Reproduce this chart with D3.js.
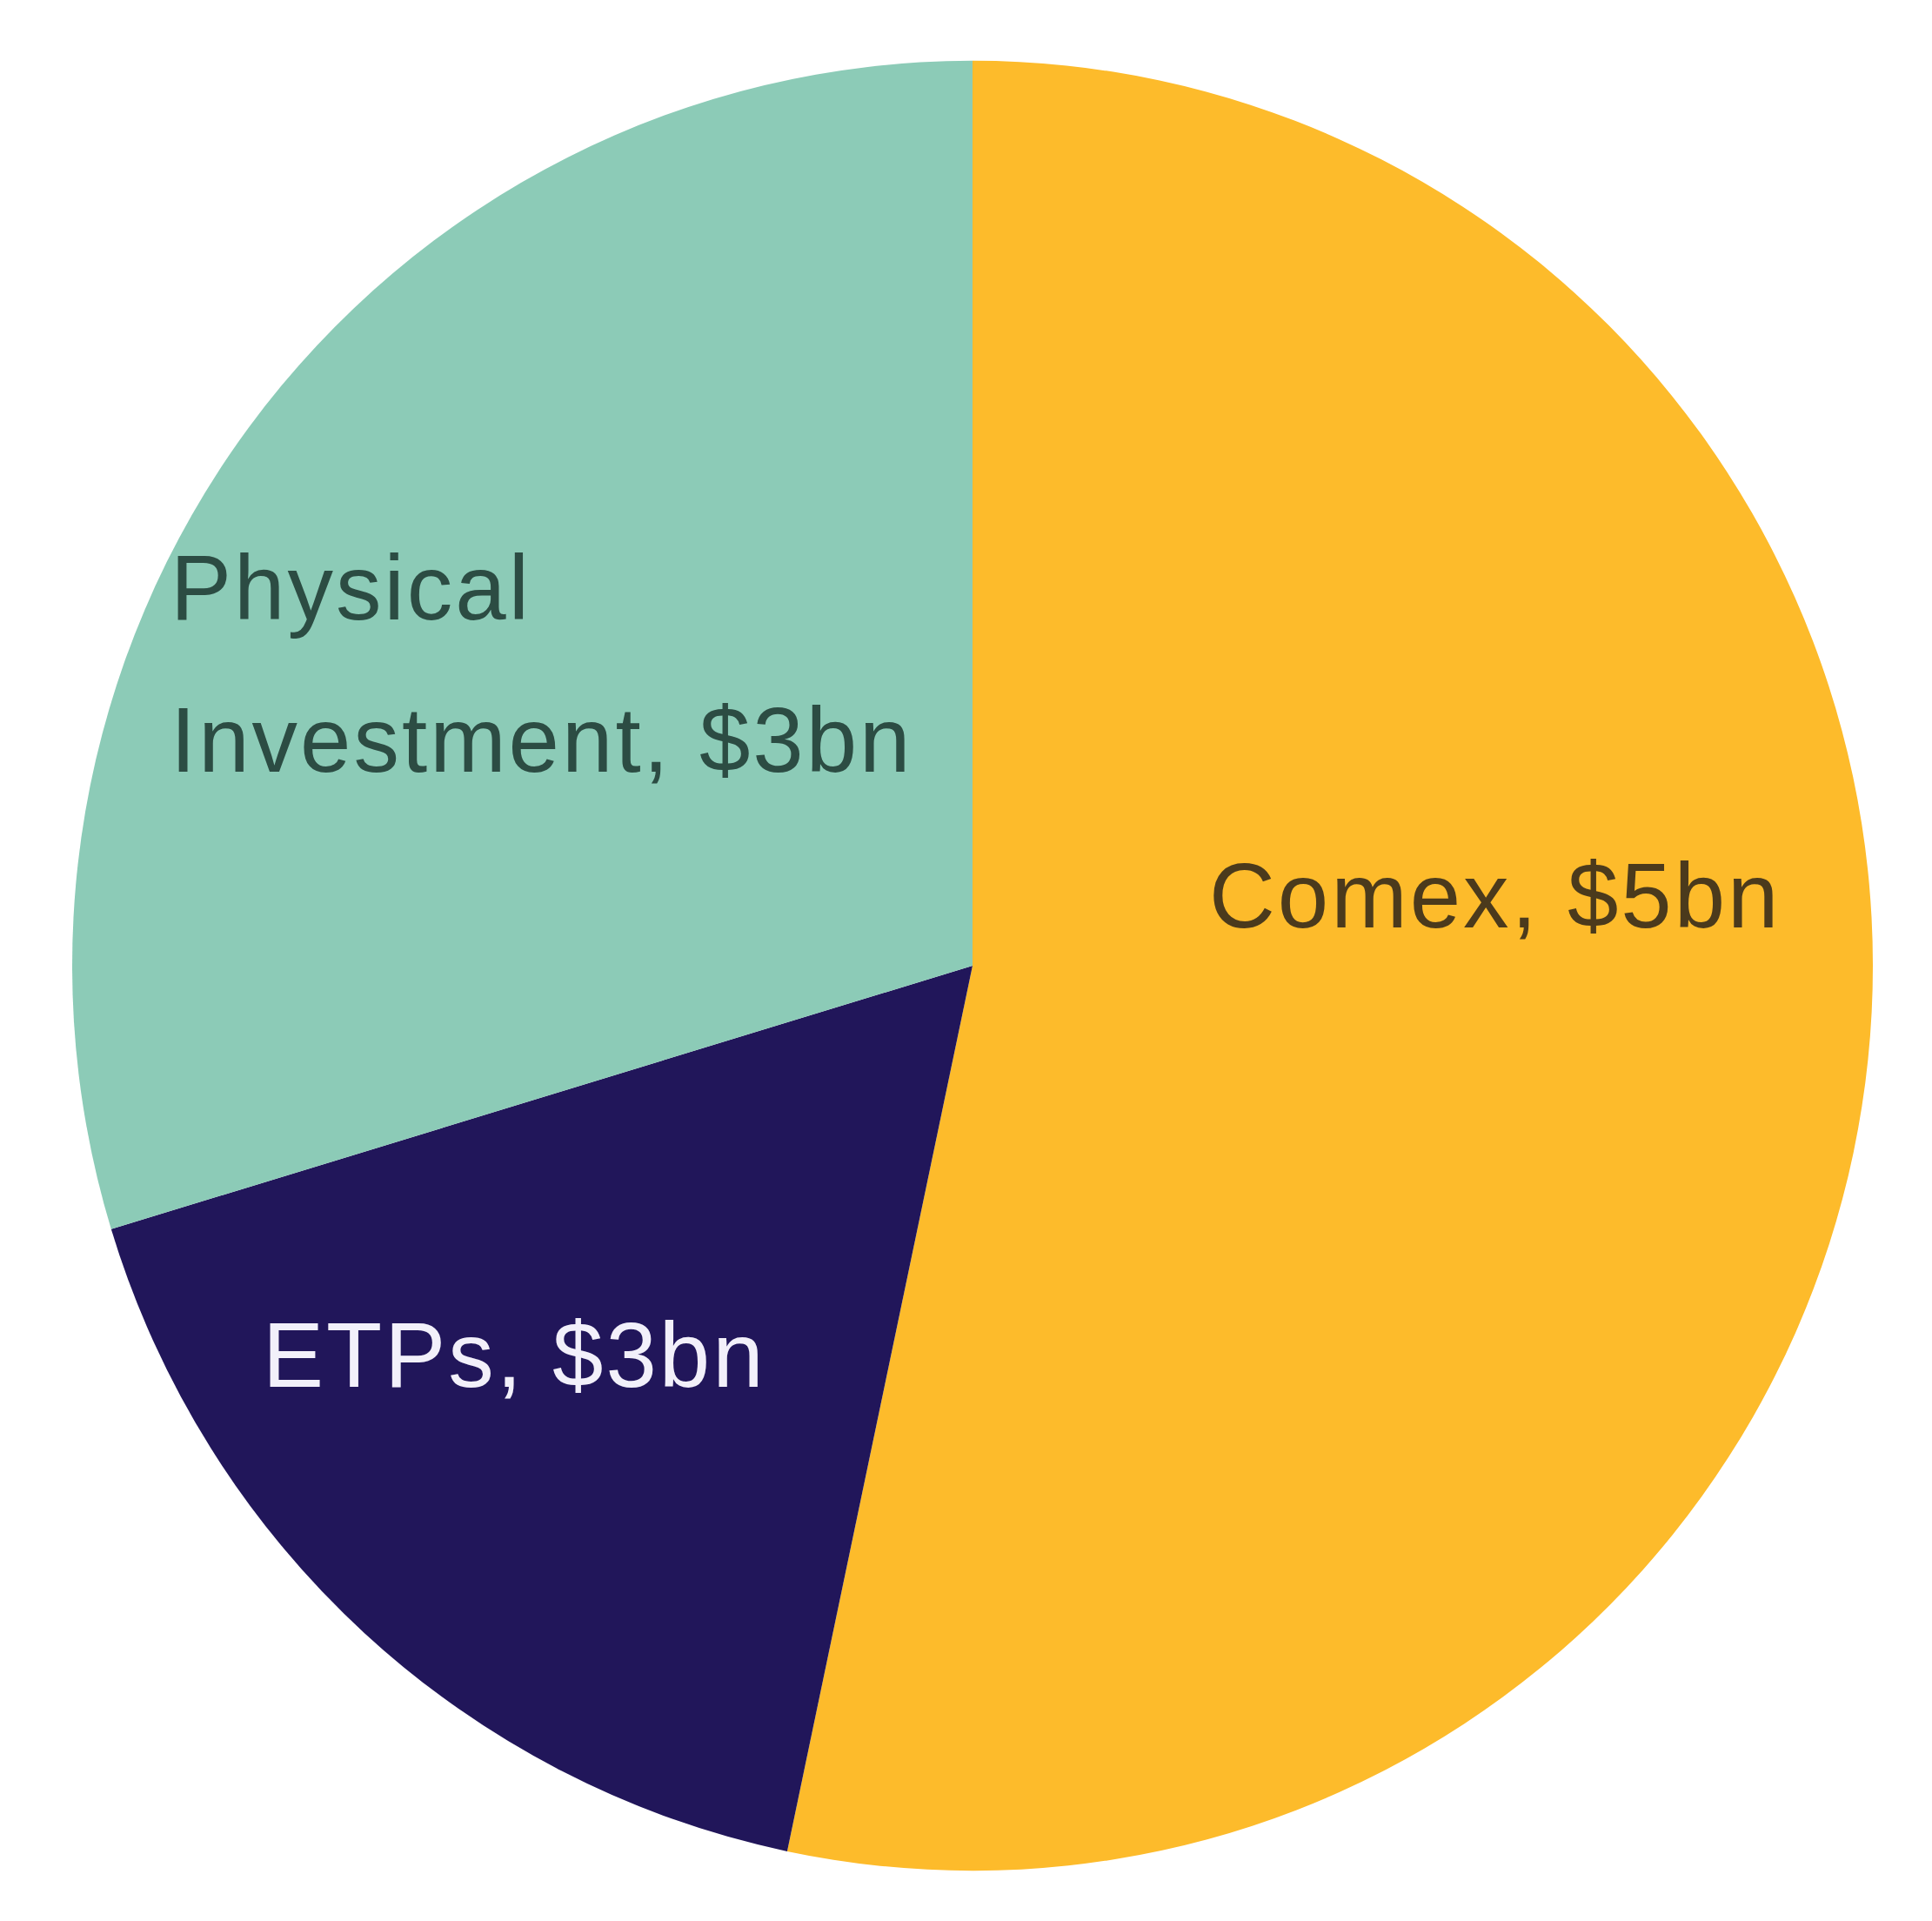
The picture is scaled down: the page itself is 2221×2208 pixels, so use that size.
<!DOCTYPE html>
<html>
<head>
<meta charset="utf-8">
<script src="https://d3js.org/d3.v7.min.js"></script>
<style>
  html, body { margin: 0; padding: 0; background: #fff; }
  svg { display: block; }
  .lbl { font-family: "Liberation Sans", Arial, sans-serif; font-size: 105px; letter-spacing: 3px; }
</style>
</head>
<body>
<svg id="chart" width="2221" height="2208"></svg>
<script>
// data (slice angles), clockwise from 12 o'clock
var categories = ["Comex", "ETPs", "Physical Investment"];
var values = [5.33, 1.70, 2.97];
var labelLines = [["Comex, $5bn"], ["ETPs, $3bn"], ["Physical", "Investment, $3bn"]];

var colors = ["#fdbb2b", "#21165a", "#8ccbb7"];
var textColors = ["#4b3a1c", "#f2f0fa", "#2c4c43"];
// label anchor, offset from the pie centre (start-anchored, first baseline)
var labelPos = [[272, -44], [-816, 484], [-922, -398]];

var svg = d3.select("#chart"),
    cx = 1118, cy = 1110,
    radius = 1035,
    lineGap = 175;

var data = categories.map(function(c, i) {
    return {name: c, value: values[i], i: i};
});

var pie = d3.pie()
    .sort(null)
    .value(function(d) { return d.value; });

var arc = d3.arc()
    .innerRadius(0)
    .outerRadius(radius);

// the scanned pie is a touch taller than wide
var g = svg.append("g")
    .attr("transform", "translate(" + cx + "," + cy + ") scale(1,1.005)");

g.selectAll("path.slice")
    .data(pie(data))
    .enter().append("path")
    .attr("class", "slice")
    .attr("d", arc)
    .attr("fill", function(d) { return colors[d.data.i]; });

var lg = svg.append("g")
    .attr("transform", "translate(" + cx + "," + cy + ")");

var labels = lg.selectAll("text.lbl")
    .data(data)
    .enter().append("text")
    .attr("class", "lbl")
    .attr("x", function(d) { return labelPos[d.i][0]; })
    .attr("y", function(d) { return labelPos[d.i][1]; })
    .attr("fill", function(d) { return textColors[d.i]; });

labels.selectAll("tspan")
    .data(function(d) { return labelLines[d.i].map(function(t, k) { return {t: t, k: k, i: d.i}; }); })
    .enter().append("tspan")
    .attr("x", function(d) { return labelPos[d.i][0]; })
    .attr("y", function(d) { return labelPos[d.i][1] + d.k * lineGap; })
    .text(function(d) { return d.t; });
</script>
</body>
</html>
